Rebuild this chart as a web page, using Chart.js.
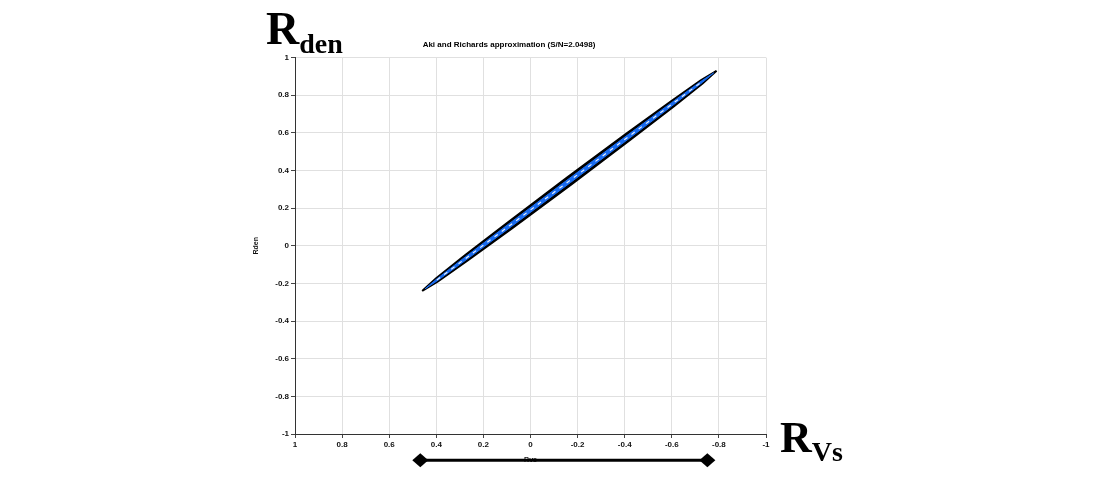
<!DOCTYPE html>
<html>
<head>
<meta charset="utf-8">
<script src="https://cdn.jsdelivr.net/npm/chart.js@4/dist/chart.umd.min.js"></script>
<style>
  body { margin: 0; background: #fff; }
  #wrap { position: relative; width: 1100px; height: 480px; }
  .big { position: absolute; font-family: "Liberation Serif", serif; font-weight: bold; color: #000; line-height: 1; white-space: nowrap; }
  .big sub { font-size: 28px; vertical-align: baseline; position: relative; top: 9px; }
</style>
</head>
<body>
<div id="wrap">
  <canvas id="chart" width="1100" height="480"></canvas>
  <div class="big" style="left:266px;top:6px;font-size:46px;">R<sub>den</sub></div>
  <div class="big" style="left:780px;top:416px;font-size:44px;">R<sub>Vs</sub></div>
</div>
<script>
// outer contour of the ellipse (R_Vs, R_den)
const outerX = [0.46, 0.4019, 0.2797, 0.0942, -0.155, -0.4058, -0.5953, -0.7231, -0.79,
  -0.7319, -0.6097, -0.4242, -0.175, 0.0758, 0.2653, 0.3931, 0.46];
const outerY = [-0.24, -0.174, -0.0523, 0.1267, 0.3621, 0.5947, 0.7667, 0.879, 0.93,
  0.864, 0.7423, 0.5633, 0.3279, 0.0953, -0.0767, -0.189, -0.24];

// inner (blue) contour
const innerX = [0.4475, 0.3997, 0.2761, 0.0896, -0.16, -0.4104, -0.5989, -0.7253, -0.7775,
  -0.7297, -0.6061, -0.4196, -0.17, 0.0804, 0.2689, 0.3953, 0.4475];
const innerY = [-0.2283, -0.1778, -0.0584, 0.1188, 0.3536, 0.5868, 0.7606, 0.8752, 0.9183,
  0.8678, 0.7484, 0.5712, 0.3364, 0.1032, -0.0706, -0.1852, -0.2283];

// dashed centre line
const axisX = [0.3975, 0.2725, 0.085, -0.165, -0.415, -0.6025, -0.7275];
const axisY = [-0.1815, -0.0645, 0.111, 0.345, 0.579, 0.7545, 0.8715];

// bar with diamond ends under the x axis
const barX = [0.468, -0.751];
const barY = [-1.139, -1.139];

const titleText = 'Aki and Richards approximation (S/N=2.0498)';
const xTitle = 'Rvs';
const yTitle = 'Rden';

function toPoints(xs, ys) {
  return xs.map((x, i) => ({ x: x, y: ys[i] }));
}

// points outside the chart area are skipped by Chart.js, so draw the diamonds here
const diamondEnds = {
  id: 'diamondEnds',
  afterDatasetsDraw(chart) {
    const ctx = chart.ctx;
    const xs = chart.scales.x, ys = chart.scales.y;
    ctx.save();
    ctx.fillStyle = '#000';
    barX.forEach((v, i) => {
      const px = xs.getPixelForValue(v);
      const py = ys.getPixelForValue(barY[i]);
      ctx.beginPath();
      ctx.moveTo(px - 8, py);
      ctx.lineTo(px, py - 7);
      ctx.lineTo(px + 8, py);
      ctx.lineTo(px, py + 7);
      ctx.closePath();
      ctx.fill();
    });
    ctx.restore();
  }
};

const tickFont = { family: 'Arial, "Liberation Sans", sans-serif', size: 8, weight: 'bold' };
const fmtTick = function (value) { return String(parseFloat(value.toFixed(1))); };

new Chart(document.getElementById('chart'), {
  type: 'scatter',
  data: {
    datasets: [{
      label: 'outer',
      data: toPoints(outerX, outerY),
      showLine: true,
      borderColor: '#000',
      borderWidth: 2,
      backgroundColor: '#000',
      fill: 'shape',
      pointRadius: 0,
      order: 4
    }, {
      label: 'inner',
      data: toPoints(innerX, innerY),
      showLine: true,
      borderColor: '#1a6cf0',
      borderWidth: 1,
      backgroundColor: '#1a6cf0',
      fill: 'shape',
      pointRadius: 0,
      order: 3
    }, {
      label: 'centre',
      data: toPoints(axisX, axisY),
      showLine: true,
      borderColor: '#e6f0ff',
      borderWidth: 1.2,
      borderDash: [4, 5],
      pointRadius: 0,
      order: 2
    }, {
      label: 'bar',
      data: toPoints(barX, barY),
      showLine: true,
      borderColor: '#000',
      borderWidth: 3,
      pointRadius: 0,
      clip: false,
      order: 1
    }]
  },
  options: {
    responsive: false,
    animation: false,
    layout: { padding: { left: 252, right: 334, top: 2, bottom: 16 } },
    plugins: {
      legend: { display: false },
      tooltip: { enabled: false },
      title: {
        display: true,
        text: titleText,
        color: '#000',
        font: { family: 'Arial, "Liberation Sans", sans-serif', size: 8, weight: 'bold' },
        padding: { top: 38, bottom: 8 }
      }
    },
    scales: {
      x: {
        type: 'linear',
        min: -1,
        max: 1,
        reverse: true,
        afterFit: function (scale) { scale.height = 30; },
        ticks: { stepSize: 0.2, color: '#111', font: tickFont, padding: 2, maxRotation: 0, callback: fmtTick },
        grid: { color: '#e0e0e0', tickLength: 4, tickColor: '#444' },
        border: { color: '#333', width: 1 },
        title: { display: true, text: xTitle, color: '#111', font: { size: 7, weight: 'bold' }, padding: 0 }
      },
      y: {
        type: 'linear',
        min: -1,
        max: 1,
        afterFit: function (scale) { scale.width = 43; },
        ticks: { stepSize: 0.2, color: '#111', font: tickFont, padding: 2, callback: fmtTick },
        grid: { color: '#e0e0e0', tickLength: 4, tickColor: '#444' },
        border: { color: '#333', width: 1 },
        title: { display: true, text: yTitle, color: '#111', font: { size: 7, weight: 'bold' }, padding: 0 }
      }
    }
  },
  plugins: [diamondEnds]
});
</script>
</body>
</html>
